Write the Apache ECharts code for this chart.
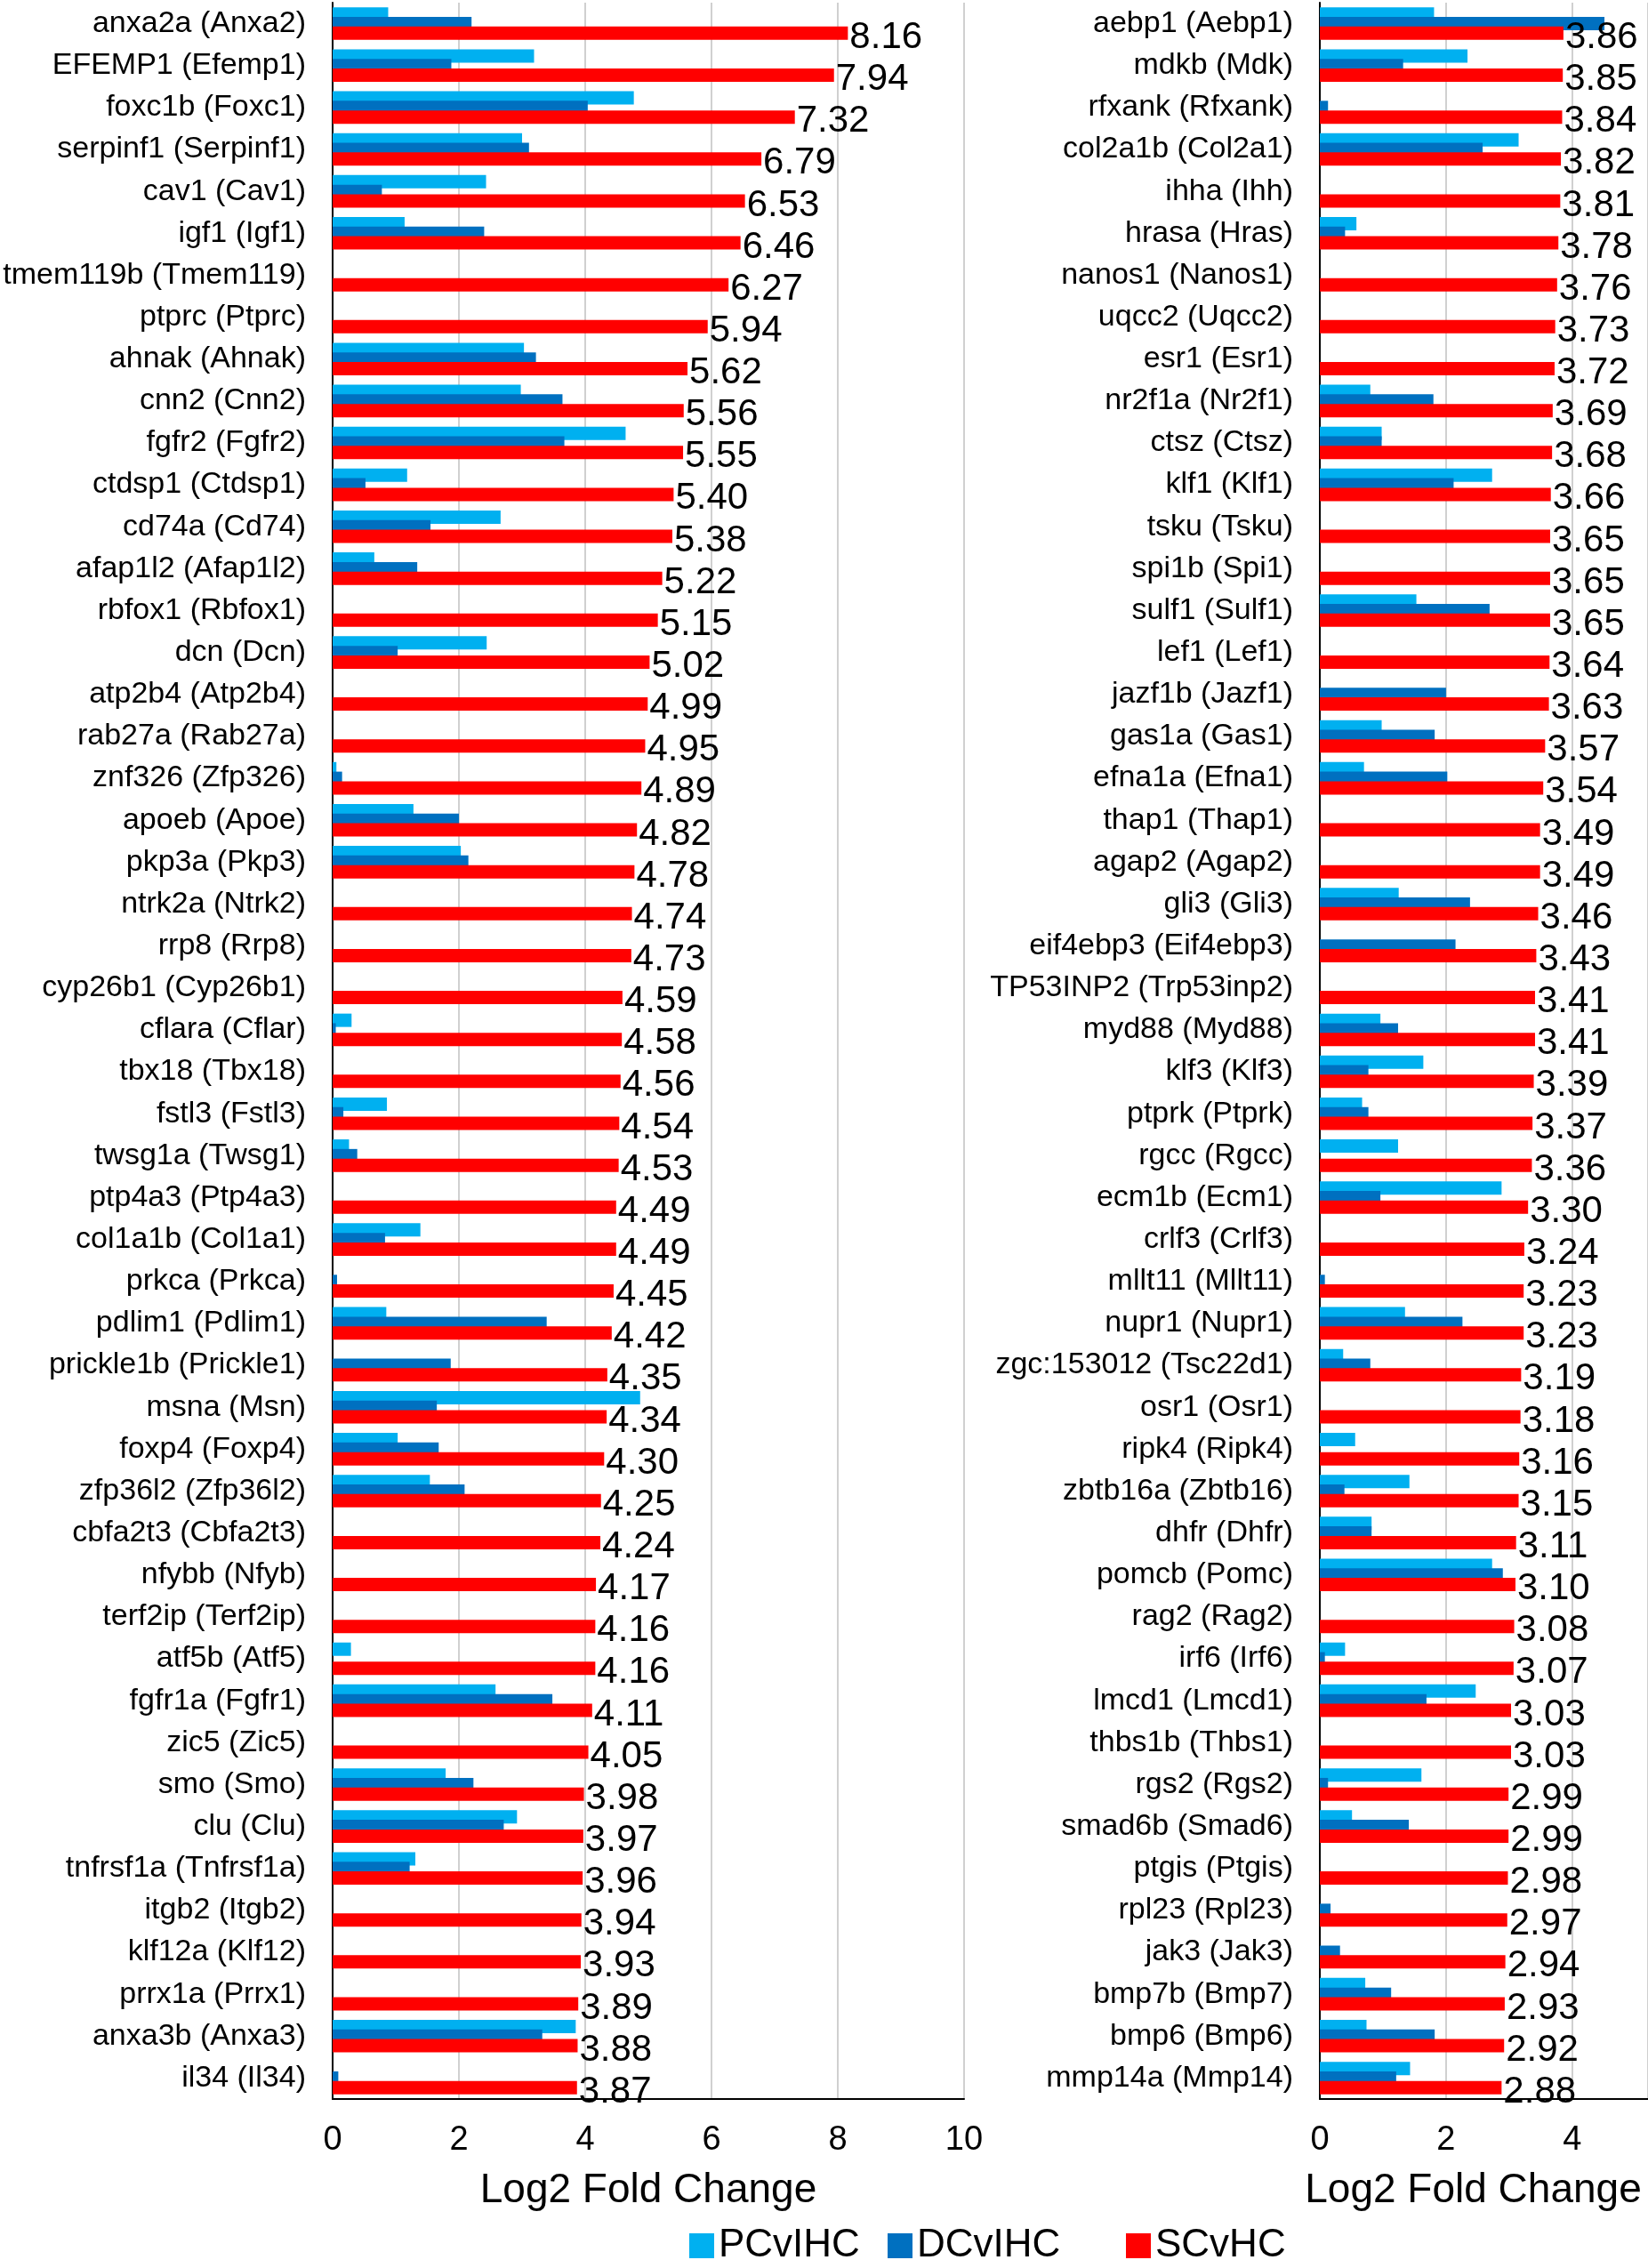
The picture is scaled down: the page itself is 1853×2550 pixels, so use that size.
<!DOCTYPE html>
<html>
<head>
<meta charset="utf-8">
<script src="https://cdn.jsdelivr.net/npm/echarts@6/dist/echarts.min.js"></script>
<style>html,body{margin:0;padding:0;background:#fff}#c{width:1853px;height:2550px}</style>
</head>
<body>
<div id="c"></div>
<script>
const leftCategories = ["anxa2a (Anxa2)","EFEMP1 (Efemp1)","foxc1b (Foxc1)","serpinf1 (Serpinf1)","cav1 (Cav1)","igf1 (Igf1)","tmem119b (Tmem119)","ptprc (Ptprc)","ahnak (Ahnak)","cnn2 (Cnn2)","fgfr2 (Fgfr2)","ctdsp1 (Ctdsp1)","cd74a (Cd74)","afap1l2 (Afap1l2)","rbfox1 (Rbfox1)","dcn (Dcn)","atp2b4 (Atp2b4)","rab27a (Rab27a)","znf326 (Zfp326)","apoeb (Apoe)","pkp3a (Pkp3)","ntrk2a (Ntrk2)","rrp8 (Rrp8)","cyp26b1 (Cyp26b1)","cflara (Cflar)","tbx18 (Tbx18)","fstl3 (Fstl3)","twsg1a (Twsg1)","ptp4a3 (Ptp4a3)","col1a1b (Col1a1)","prkca (Prkca)","pdlim1 (Pdlim1)","prickle1b (Prickle1)","msna (Msn)","foxp4 (Foxp4)","zfp36l2 (Zfp36l2)","cbfa2t3 (Cbfa2t3)","nfybb (Nfyb)","terf2ip (Terf2ip)","atf5b (Atf5)","fgfr1a (Fgfr1)","zic5 (Zic5)","smo (Smo)","clu (Clu)","tnfrsf1a (Tnfrsf1a)","itgb2 (Itgb2)","klf12a (Klf12)","prrx1a (Prrx1)","anxa3b (Anxa3)","il34 (Il34)"];
const leftPC = [0.88,3.19,4.77,3.0,2.43,1.14,0,0,3.03,2.98,4.64,1.18,2.66,0.66,0,2.44,0,0,0.06,1.28,2.03,0,0,0,0.30,0,0.86,0.26,0,1.39,0,0.85,0,4.87,1.03,1.54,0,0,0,0.29,2.58,0,1.79,2.92,1.31,0,0,0,3.85,0];
const leftDC = [2.20,1.88,4.04,3.11,0.78,2.40,0,0,3.22,3.64,3.67,0.52,1.55,1.34,0,1.03,0,0,0.15,2.0,2.15,0,0,0,0.05,0,0.17,0.39,0,0.83,0.07,3.39,1.87,1.65,1.68,2.09,0,0,0,0,3.48,0,2.23,2.71,1.22,0,0,0,3.32,0.09];
const leftSC = [8.16,7.94,7.32,6.79,6.53,6.46,6.27,5.94,5.62,5.56,5.55,5.40,5.38,5.22,5.15,5.02,4.99,4.95,4.89,4.82,4.78,4.74,4.73,4.59,4.58,4.56,4.54,4.53,4.49,4.49,4.45,4.42,4.35,4.34,4.30,4.25,4.24,4.17,4.16,4.16,4.11,4.05,3.98,3.97,3.96,3.94,3.93,3.89,3.88,3.87];

const rightCategories = ["aebp1 (Aebp1)","mdkb (Mdk)","rfxank (Rfxank)","col2a1b (Col2a1)","ihha (Ihh)","hrasa (Hras)","nanos1 (Nanos1)","uqcc2 (Uqcc2)","esr1 (Esr1)","nr2f1a (Nr2f1)","ctsz (Ctsz)","klf1 (Klf1)","tsku (Tsku)","spi1b (Spi1)","sulf1 (Sulf1)","lef1 (Lef1)","jazf1b (Jazf1)","gas1a (Gas1)","efna1a (Efna1)","thap1 (Thap1)","agap2 (Agap2)","gli3 (Gli3)","eif4ebp3 (Eif4ebp3)","TP53INP2 (Trp53inp2)","myd88 (Myd88)","klf3 (Klf3)","ptprk (Ptprk)","rgcc (Rgcc)","ecm1b (Ecm1)","crlf3 (Crlf3)","mllt11 (Mllt11)","nupr1 (Nupr1)","zgc:153012 (Tsc22d1)","osr1 (Osr1)","ripk4 (Ripk4)","zbtb16a (Zbtb16)","dhfr (Dhfr)","pomcb (Pomc)","rag2 (Rag2)","irf6 (Irf6)","lmcd1 (Lmcd1)","thbs1b (Thbs1)","rgs2 (Rgs2)","smad6b (Smad6)","ptgis (Ptgis)","rpl23 (Rpl23)","jak3 (Jak3)","bmp7b (Bmp7)","bmp6 (Bmp6)","mmp14a (Mmp14)"];
const rightPC = [1.81,2.34,0,3.15,0,0.58,0,0,0,0.80,0.98,2.73,0,0,1.53,0,0,0.98,0.70,0,0,1.25,0,0,0.96,1.64,0.67,1.24,2.88,0,0,1.35,0.37,0,0.56,1.42,0.82,2.73,0,0.40,2.47,0,1.61,0.51,0,0,0,0.72,0.74,1.43];
const rightDC = [4.51,1.32,0.13,2.58,0,0.40,0,0,0,1.80,0.98,2.12,0,0,2.69,0,2.0,1.82,2.02,0,0,2.38,2.15,0,1.24,0.77,0.77,0,0.96,0,0.08,2.26,0.80,0,0,0.39,0.82,2.90,0,0.08,1.69,0,0.13,1.41,0,0.17,0.32,1.13,1.82,1.21];
const rightSC = [3.86,3.85,3.84,3.82,3.81,3.78,3.76,3.73,3.72,3.69,3.68,3.66,3.65,3.65,3.65,3.64,3.63,3.57,3.54,3.49,3.49,3.46,3.43,3.41,3.41,3.39,3.37,3.36,3.30,3.24,3.23,3.23,3.19,3.18,3.16,3.15,3.11,3.10,3.08,3.07,3.03,3.03,2.99,2.99,2.98,2.97,2.94,2.93,2.92,2.88];

const seriesNames = ["PCvIHC","DCvIHC","SCvHC"];
const colors = ["#00B0F0","#0070C0","#FF0000"];

const FONT = "Liberation Sans, Arial, sans-serif";
const chart = echarts.init(document.getElementById('c'), null, {renderer:'canvas'});

function yAxis(idx, cats){
  return {
    type:'category', gridIndex:idx, data:cats, inverse:true,
    axisTick:{show:false},
    axisLine:{show:true, lineStyle:{color:'#000', width:2}},
    axisLabel:{color:'#000', fontSize:34, fontFamily:FONT, margin:30, interval:0},
    splitLine:{show:false}
  };
}
function xAxis(idx, max, namePad){
  return {
    type:'value', gridIndex:idx, min:0, max:max, interval:2,
    name:'Log2 Fold Change', nameLocation:'middle', nameGap:80,
    nameTextStyle:{color:'#000', fontSize:46, fontFamily:FONT, padding:namePad},
    axisLine:{show:true, lineStyle:{color:'#000', width:2}},
    axisTick:{show:false},
    axisLabel:{color:'#000', fontSize:38, fontFamily:FONT, margin:28, showMaxLabel: max===10},
    splitLine:{show:true, lineStyle:{color:'#D0D0D0', width:2}}
  };
}
function bars(idx, pc, dc, sc){
  const arrs=[pc,dc,sc];
  return arrs.map((a,i)=>({
    name:seriesNames[i], type:'bar', xAxisIndex:idx, yAxisIndex:idx,
    data:a.map(v=>v===0?null:v), barWidth:15, barGap:'-28%',
    itemStyle:{color:colors[i]},
    animation:false,
    label: i===2 ? {show:true, position:'right', distance:2, offset:[0,5], color:'#000', fontSize:42, fontFamily:FONT,
      formatter:p=>Number(p.value).toFixed(2)} : {show:false}
  }));
}
const legendLefts = [770, 993, 1261];
chart.setOption({
  backgroundColor:'#fff',
  animation:false,
  legend: seriesNames.map((n,i)=>({
    data:[{name:n, itemStyle:{color:colors[i]}}],
    left:legendLefts[i], top:2498, itemWidth:28, itemHeight:28, icon:'rect',
    textStyle:{color:'#000', fontSize:44, fontFamily:FONT}
  })),
  grid:[
    {left:374, top:3, width:710, height:2357, containLabel:false, outerBoundsMode:'none'},
    {left:1484, top:3, width:369, height:2357, containLabel:false, outerBoundsMode:'none'}
  ],
  xAxis:[xAxis(0,10,[0,0,0,0]), xAxis(1,5.2,[0,24,0,0])],
  yAxis:[yAxis(0,leftCategories), yAxis(1,rightCategories)],
  series:[...bars(0,leftPC,leftDC,leftSC), ...bars(1,rightPC,rightDC,rightSC)]
});
</script>
</body>
</html>
